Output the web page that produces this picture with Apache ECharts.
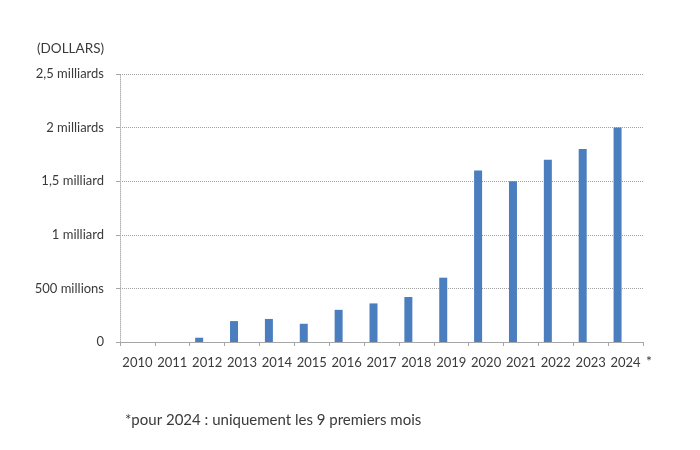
<!DOCTYPE html>
<html>
<head>
<meta charset="utf-8">
<script src="https://cdn.jsdelivr.net/npm/echarts@6/dist/echarts.min.js"></script>
<style>
  html, body { margin: 0; padding: 0; background: #fff; }
  #chart { width: 700px; height: 450px; }
</style>
</head>
<body>
<div id="chart"></div>
<script>
// values in millions of dollars
const years = ['2010', '2011', '2012', '2013', '2014', '2015', '2016', '2017', '2018', '2019', '2020', '2021', '2022', '2023', '2024'];
const amounts = [0, 0, 40, 195, 215, 170, 300, 360, 420, 600, 1600, 1500, 1700, 1800, 2000];
// second (empty) series of the original sheet, keeps bars left of centre
const emptySeries = years.map(() => '-');
const yTickLabels = {
  0: '0',
  500: '500 millions',
  1000: '1 milliard',
  1500: '1,5 milliard',
  2000: '2 milliards',
  2500: '2,5 milliards'
};

const font = 'Lato, "Open Sans", sans-serif';
const textColor = '#3a3a3a';

const myChart = echarts.init(document.getElementById('chart'), null, {renderer: 'canvas'});

const option = {
  backgroundColor: '#ffffff',
  animation: false,
  grid: {
    left: 120,
    right: 57,
    top: 74,
    bottom: 108
  },
  title: [
    {
      text: '(DOLLARS)',
      left: 32,
      top: 37,
      textStyle: {fontFamily: font, fontSize: 13.5, fontWeight: 'normal', color: textColor}
    },
    {
      text: '*pour 2024 : uniquement les 9 premiers mois',
      left: 120,
      top: 408,
      textStyle: {fontFamily: font, fontSize: 15, fontWeight: 'normal', color: textColor}
    },
    {
      text: '*',
      left: 641,
      top: 349,
      textStyle: {fontFamily: font, fontSize: 14, fontWeight: 'normal', color: textColor}
    }
  ],
  xAxis: {
    type: 'category',
    data: years,
    boundaryGap: true,
    axisLine: {lineStyle: {color: '#a6a6a6', width: 1}},
    axisTick: {show: true, alignWithLabel: false, length: 4, lineStyle: {color: '#a6a6a6'}},
    axisLabel: {
      interval: 0,
      margin: 14,
      fontFamily: font,
      fontSize: 13,
      color: textColor
    }
  },
  yAxis: {
    type: 'value',
    min: 0,
    max: 2500,
    interval: 500,
    axisLine: {show: true, lineStyle: {color: '#b3b3b3', type: 'dotted'}},
    axisTick: {show: true, length: 4, lineStyle: {color: '#a6a6a6'}},
    splitLine: {lineStyle: {color: '#a0a0a0', type: 'dotted', width: 1}},
    axisLabel: {
      margin: 16,
      fontFamily: font,
      fontSize: 13,
      color: textColor,
      formatter: v => yTickLabels[v]
    }
  },
  series: [
    {
      type: 'bar',
      data: amounts,
      barWidth: 8,
      barGap: '100%',
      itemStyle: {color: '#4a7ebf'}
    },
    {
      type: 'bar',
      data: emptySeries,
      barWidth: 8,
      itemStyle: {color: '#c0504d'}
    }
  ]
};

myChart.setOption(option);
</script>
</body>
</html>
